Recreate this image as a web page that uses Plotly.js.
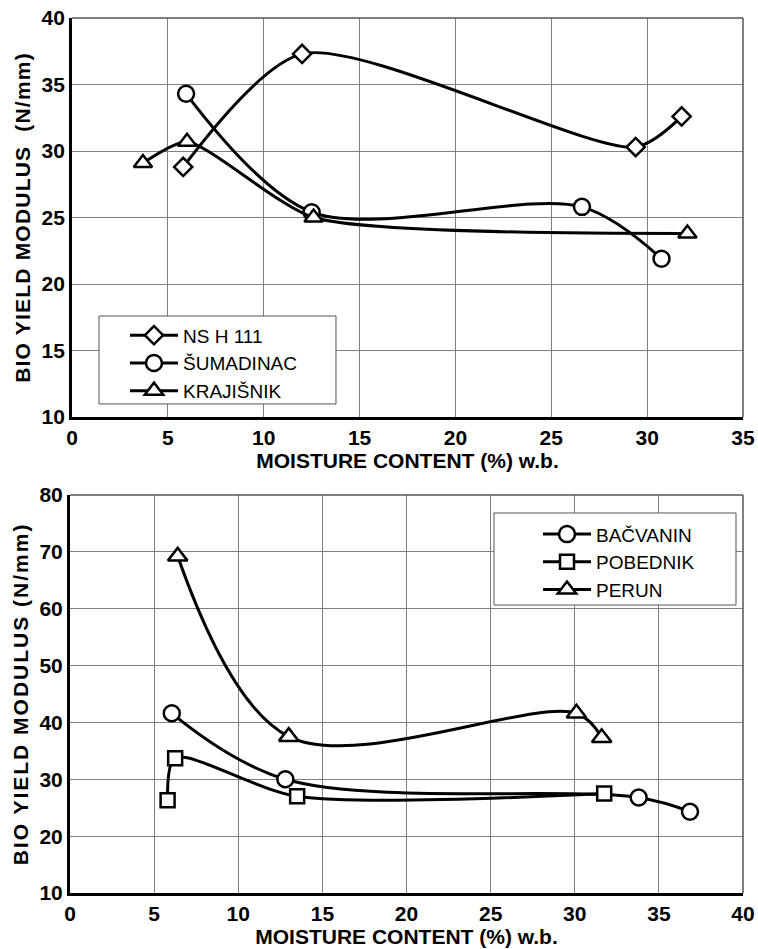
<!DOCTYPE html>
<html><head><meta charset="utf-8">
<script src="https://cdn.plot.ly/plotly-3.0.1.min.js"></script>
<style>html,body{margin:0;padding:0;background:#fff}</style>
</head><body>
<div id="chart" style="width:758px;height:949px"></div>
<script>
// ---- Top panel data ----
const nsName = 'NS H 111';
const nsX = [5.8, 12.0, 29.4, 31.8];
const nsY = [28.8, 37.3, 30.3, 32.6];
const sumName = 'ŠUMADINAC';
const sumX = [5.95, 12.5, 26.6, 30.75];
const sumY = [34.3, 25.4, 25.8, 21.9];
const kraName = 'KRAJIŠNIK';
const kraX = [3.7, 6.0, 12.6, 32.1];
const kraY = [29.1, 30.7, 25.0, 23.8];
// ---- Bottom panel data ----
const bacName = 'BAČVANIN';
const bacX = [6.05, 12.8, 33.8, 36.85];
const bacY = [41.6, 30.0, 26.8, 24.3];
const pobName = 'POBEDNIK';
const pobX = [5.8, 6.25, 13.5, 31.75];
const pobY = [26.3, 33.7, 27.0, 27.5];
const perName = 'PERUN';
const perX = [6.4, 13.0, 30.1, 31.6];
const perY = [69.2, 37.5, 41.6, 37.3];

const xTitle = 'MOISTURE CONTENT (%) w.b.';
const yTitleTop = 'BIO YIELD MODULUS  (N/mm)';
const yTitleBottom = 'BIO YIELD MODULUS (N/mm)';

function tr(name, x, y, symbol, size, xa, ya, legend, smooth) {
  return {
    type: 'scatter', mode: 'lines+markers', name: name, x: x, y: y,
    xaxis: xa, yaxis: ya, legend: legend,
    line: {shape: 'spline', smoothing: smooth, color: 'black', width: 3},
    marker: {symbol: symbol, size: size, color: 'white', line: {color: 'black', width: 2.5}}
  };
}

const data = [
  tr(nsName, nsX, nsY, 'diamond', 14, 'x', 'y', 'legend', 0.75),
  tr(sumName, sumX, sumY, 'circle', 16, 'x', 'y', 'legend', 0.9),
  tr(kraName, kraX, kraY, 'triangle-up', 16, 'x', 'y', 'legend', 0.6),
  tr(bacName, bacX, bacY, 'circle', 16, 'x2', 'y2', 'legend2', 1),
  tr(pobName, pobX, pobY, 'square', 14, 'x2', 'y2', 'legend2', 0.8),
  tr(perName, perX, perY, 'triangle-up', 17, 'x2', 'y2', 'legend2', 1)
];

const FONT = 'Liberation Sans, Arial, Helvetica, sans-serif';
function xax(range, domain, anchor) {
  return {
    domain: domain, anchor: anchor, range: range, tick0: 0, dtick: 5,
    showgrid: true, gridcolor: '#808080', gridwidth: 1, zeroline: false,
    showline: true, linecolor: 'black', linewidth: 3, ticks: '',
    tickfont: {size: 21, weight: 700, family: FONT, color: 'black'},
    title: {text: xTitle, font: {size: 21, weight: 700, family: FONT, color: 'black'}, standoff: 1}
  };
}
function yax(range, dtick, domain, anchor, title) {
  return {
    domain: domain, anchor: anchor, range: range, tick0: 0, dtick: dtick,
    showgrid: true, gridcolor: '#808080', gridwidth: 1, zeroline: false,
    showline: true, linecolor: 'black', linewidth: 3, ticks: '',
    tickfont: {size: 21, weight: 700, family: FONT, color: 'black'},
    title: {text: title, font: {size: 21, weight: 700, family: FONT, color: 'black'}, standoff: 6}
  };
}

function frame(xr, yr) {
  return [
    {type: 'line', xref: xr + ' domain', yref: yr + ' domain', x0: 0, x1: 1, y0: 1, y1: 1, line: {color: '#555', width: 1.5}},
    {type: 'line', xref: xr + ' domain', yref: yr + ' domain', x0: 1, x1: 1, y0: 0, y1: 1, line: {color: '#555', width: 1.5}}
  ];
}

const legendFont = {size: 19, family: FONT, color: 'black'};
const layout = {
  width: 758, height: 949,
  margin: {l: 70, r: 15, t: 18, b: 56},
  paper_bgcolor: 'white', plot_bgcolor: 'white',
  font: {family: FONT, color: 'black'},
  xaxis: xax([0, 35], [0.003, 1], 'y'),
  yaxis: yax([10, 40], 5, [0.544, 1], 'x', yTitleTop),
  xaxis2: xax([0, 40], [0, 1], 'y2'),
  yaxis2: yax([10, 80], 10, [0, 0.4549], 'x2', yTitleBottom),
  legend: {x: 0.0817, y: 0.659, xanchor: 'left', yanchor: 'top', bgcolor: 'rgba(0,0,0,0)', borderwidth: 0,
           itemwidth: 48, font: legendFont},
  legend2: {x: 0.6954, y: 0.4317, xanchor: 'left', yanchor: 'top', bgcolor: 'rgba(0,0,0,0)', borderwidth: 0,
           itemwidth: 48, font: legendFont},
  showlegend: true,
  shapes: [].concat(frame('x', 'y'), frame('x2', 'y2'), [
    {type: 'rect', xref: 'paper', yref: 'paper', x0: 0.0431, x1: 0.3952, y0: 0.5589, y1: 0.6594,
     fillcolor: 'white', line: {color: '#555', width: 1}, layer: 'above'},
    {type: 'rect', xref: 'paper', yref: 'paper', x0: 0.630, x1: 0.9896, y0: 0.3291, y1: 0.4343,
     fillcolor: 'white', line: {color: '#555', width: 1}, layer: 'above'}
  ])
};

Plotly.newPlot('chart', data, layout, {displayModeBar: false, staticPlot: true}).then(function () {
  document.querySelectorAll('text.ytitle').forEach(function (t) { t.style.letterSpacing = '1.2px'; });
  document.querySelectorAll('text.y2title').forEach(function (t) { t.style.letterSpacing = '2px'; });
});
</script>
</body></html>
